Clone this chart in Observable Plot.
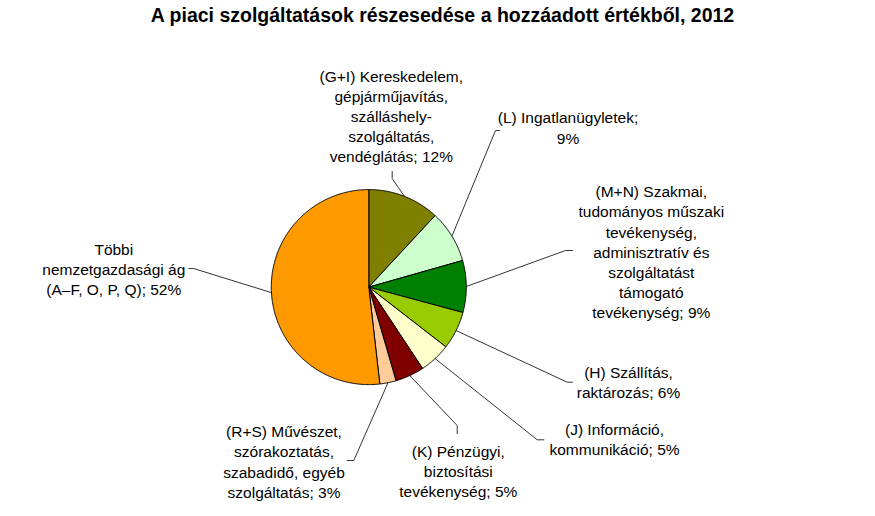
<!DOCTYPE html>
<html>
<head>
<meta charset="utf-8">
<script src="https://cdn.jsdelivr.net/npm/d3@7"></script>
<script src="https://cdn.jsdelivr.net/npm/@observablehq/plot@0.6"></script>
<style>
  html, body { margin: 0; padding: 0; background: #fff; }
  #title {
    width: 875px; height: 34px; box-sizing: border-box; padding-left: 10px;
    font: bold 19.5px "Liberation Sans", Arial, sans-serif; line-height: 30px;
    text-align: center; color: #000; white-space: nowrap;
  }
</style>
</head>
<body>
<div id="title">A piaci szolgáltatások részesedése a hozzáadott értékből, 2012</div>
<div id="chart"></div>
<script>
// ---- data (clockwise from 12 o'clock) ----
const categories = [
  "(G+I) Kereskedelem,\ngépjárműjavítás,\nszálláshely-\nszolgáltatás,\nvendéglátás; {p}%",
  "(L) Ingatlanügyletek;\n{p}%",
  "(M+N) Szakmai,\ntudományos műszaki\ntevékenység,\nadminisztratív és\nszolgáltatást\ntámogató\ntevékenység; {p}%",
  "(H) Szállítás,\nraktározás; {p}%",
  "(J) Információ,\nkommunikáció; {p}%",
  "(K) Pénzügyi,\nbiztosítási\ntevékenység; {p}%",
  "(R+S) Művészet,\nszórakoztatás,\nszabadidő, egyéb\nszolgáltatás; {p}%",
  "Többi\nnemzetgazdasági ág\n(A–F, O, P, Q); {p}%"
];
const shares = [11.9, 8.7, 8.6, 6.3, 5.2, 4.8, 2.7, 51.8];
const colors = ["#808000", "#CCFFCC", "#008000", "#99CC00", "#FFFFCC", "#800000", "#FFCC99", "#FF9900"];

// ---- layout (page pixel coordinates) ----
const pie = {cx: 368.3, cy: 286.6, r: 97.5};
const labelX = [390.8, 567.5, 650.8, 628, 614, 457.8, 283.5, 113.3];
const labelY = [115, 126.5, 250.8, 380.8, 438.3, 469.7, 460.6, 267.7];
const elbowX = [391.7, 495, 565, 566.7, 536.7, 456.7, 353.3, 193];
const elbowY = [178, 130, 250, 381.7, 439.3, 425, 460, 268];
const endX   = [391.7, 499, 572, 572, 543.3, 456.7, 346.7, 188.3];
const endY   = [171, 130, 250, 381.7, 439.3, 433, 460, 268];

const arcs = d3.pie().sort(null).value(d => d)(shares);
const pt = (a, r) => [pie.cx + r * Math.sin(a), pie.cy - r * Math.cos(a)];

// slice polygons
const slicePts = [];
arcs.forEach((a, i) => {
  slicePts.push({k: i, x: pie.cx, y: pie.cy, color: colors[i]});
  const n = Math.max(2, Math.ceil((a.endAngle - a.startAngle) / (Math.PI / 360)));
  for (let j = 0; j <= n; j++) {
    const t = a.startAngle + (a.endAngle - a.startAngle) * j / n;
    const [x, y] = pt(t, pie.r);
    slicePts.push({k: i, x, y, color: colors[i]});
  }
  slicePts.push({k: i, x: pie.cx, y: pie.cy, color: colors[i]});
});

// leader lines
const leaderPts = [];
arcs.forEach((a, i) => {
  const [x0, y0] = pt((a.startAngle + a.endAngle) / 2, pie.r);
  leaderPts.push({k: i, x: x0, y: y0});
  leaderPts.push({k: i, x: elbowX[i], y: elbowY[i]});
  leaderPts.push({k: i, x: endX[i], y: endY[i]});
});

const labels = categories.map((c, i) => ({
  text: c.replace("{p}", Math.round(shares[i])),
  x: labelX[i], y: labelY[i]
}));

const chart = Plot.plot({
  width: 875, height: 482,
  marginTop: 0, marginRight: 0, marginBottom: 0, marginLeft: 0,
  x: {domain: [0, 875], range: [0, 875], axis: null},
  y: {domain: [34, 516], range: [0, 482], axis: null},
  color: {type: "identity"},
  style: {fontFamily: '"Liberation Sans", Arial, sans-serif', background: "#fff"},
  marks: [
    Plot.line(leaderPts, {x: "x", y: "y", z: "k", stroke: "#333", strokeWidth: 1}),
    Plot.line(slicePts, {x: "x", y: "y", z: "k", fill: "color", stroke: "#000", strokeWidth: 1, strokeLinejoin: "round"}),
    Plot.text(labels, {x: "x", y: "y", text: "text", fontSize: 15.5, lineHeight: 1.3, fill: "#000", textAnchor: "middle"})
  ]
});
document.getElementById("chart").appendChild(chart);
</script>
</body>
</html>
